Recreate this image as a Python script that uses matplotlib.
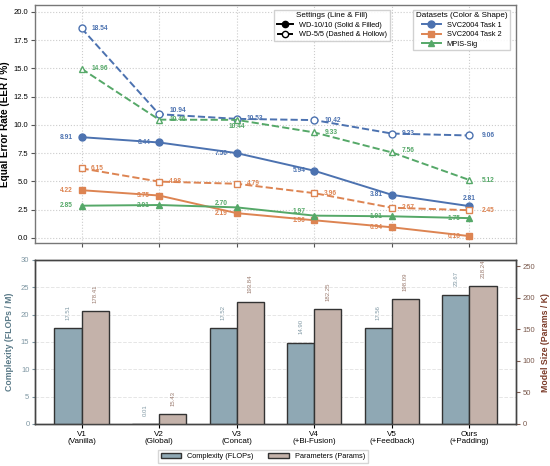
import matplotlib.pyplot as plt
import numpy as np
from matplotlib.lines import Line2D

plt.rcParams['font.family'] = ['Liberation Sans', 'DejaVu Sans']

variants = ['V1\n(Vanilla)', 'V2\n(Global)', 'V3\n(Concat)', 'V4\n(+Bi-Fusion)', 'V5\n(+Feedback)', 'Ours\n(+Padding)']

# EER values (%)
task1_wd10 = [8.91, 8.44, 7.50, 5.94, 3.81, 2.81]
task1_wd5 = [18.54, 10.94, 10.53, 10.42, 9.23, 9.06]
task2_wd10 = [4.22, 3.75, 2.19, 1.56, 0.94, 0.16]
task2_wd5 = [6.15, 4.98, 4.79, 3.96, 2.67, 2.45]
mpis_wd10 = [2.85, 2.91, 2.70, 1.97, 1.91, 1.75]
mpis_wd5 = [14.96, 10.46, 10.44, 9.33, 7.56, 5.12]

# complexity
flops = [17.51, 0.01, 17.52, 14.90, 17.56, 23.67]
params = [178.41, 15.43, 193.84, 182.25, 198.09, 218.24]

c_blue = '#4C72B0'
c_orange = '#DD8452'
c_green = '#55A868'
c_flops = '#8FA8B4'
c_params = '#C4B2AA'

x = np.arange(len(variants))

fig = plt.figure(figsize=(5.5, 4.66), dpi=100)
ax1 = fig.add_axes([35/550, 223/466, 481/550, 238/466])
ax2 = fig.add_axes([35/550, 42/466, 481/550, 164/466])

series = [
    (task1_wd10, c_blue, 'o', '-', True),
    (task2_wd10, c_orange, 's', '-', True),
    (mpis_wd10, c_green, '^', '-', True),
    (task1_wd5, c_blue, 'o', '--', False),
    (task2_wd5, c_orange, 's', '--', False),
    (mpis_wd5, c_green, '^', '--', False),
]
for vals, col, mk, ls, filled in series:
    ax1.plot(x, vals, color=col, marker=mk, linestyle=ls, lw=1.4, ms=5,
             markerfacecolor=col if filled else 'white', markeredgecolor=col,
             markeredgewidth=1.0, zorder=3)

# label offsets (pixels)
solid_off = {
    'task1': [(-9, 0)] * 5 + [(0, 8)],
    'task2': [(-9, 0)] * 6,
    'mpis': [(-9, 0), (-9, 0), (-9, 4), (-9, 4), (-9, 0), (-9, 0)],
}
for key, vals, col in [('task1', task1_wd10, c_blue), ('task2', task2_wd10, c_orange), ('mpis', mpis_wd10, c_green)]:
    for i, v in enumerate(vals):
        dx, dy = solid_off[key][i]
        ha = 'center' if dx == 0 else 'right'
        ax1.annotate(f'{v:.2f}', (x[i], v), xytext=(dx, dy), textcoords='offset pixels',
                     ha=ha, va='center', fontsize=4.8, fontweight='bold', color=col, zorder=4)

dash_off = {
    'task1': [(10, 0), (10, 4), (10, 0), (10, 0), (10, 0), (12, 0)],
    'task2': [(9, 0), (10, 0), (10, 0), (10, 0), (10, 0), (12, 0)],
    'mpis': [(10, 0), (10, 0), (0, -7), (10, 0), (10, 2), (12, 0)],
}
for key, vals, col in [('task1', task1_wd5, c_blue), ('task2', task2_wd5, c_orange), ('mpis', mpis_wd5, c_green)]:
    for i, v in enumerate(vals):
        dx, dy = dash_off[key][i]
        ha = 'center' if dx == 0 else 'left'
        ax1.annotate(f'{v:.2f}', (x[i], v), xytext=(dx, dy), textcoords='offset pixels',
                     ha=ha, va='center', fontsize=4.8, fontweight='bold', color=col, zorder=4)

ax1.set_xlim(-0.6, 5.6)
ax1.set_ylim(-0.45, 20.6)
ax1.set_yticks(np.arange(0, 20.1, 2.5))
ax1.set_xticks(x)
ax1.set_xticklabels([])
ax1.tick_params(labelsize=5.5, length=3, color='#555555', pad=2)
ax1.grid(True, linestyle=':', color='#cccccc', lw=0.8)
ax1.set_axisbelow(True)
for s in ax1.spines.values():
    s.set_color('#777777')
    s.set_linewidth(1.0)
ax1.set_ylabel('Equal Error Rate (EER / %)', fontsize=7.2, fontweight='bold', labelpad=2)

set_handles = [
    Line2D([0], [0], color='black', ls='-', marker='o', ms=4.5, lw=1.4),
    Line2D([0], [0], color='black', ls='--', marker='o', ms=4.5, lw=1.4, markerfacecolor='white'),
]
leg1 = ax1.legend(set_handles, ['WD-10/10 (Solid & Filled)', 'WD-5/5 (Dashed & Hollow)'],
                  title='Settings (Line & Fill)', loc='upper right', bbox_to_anchor=(0.745, 0.995),
                  fontsize=5.3, title_fontsize=5.8, handlelength=2.2, borderpad=0.35,
                  labelspacing=0.3, framealpha=0.9, edgecolor='#cccccc', fancybox=False)
ax1.add_artist(leg1)
data_handles = [
    Line2D([0], [0], color=c_blue, marker='o', ms=5, lw=1.4),
    Line2D([0], [0], color=c_orange, marker='s', ms=5, lw=1.4),
    Line2D([0], [0], color=c_green, marker='^', ms=5, lw=1.4),
]
ax1.legend(data_handles, ['SVC2004 Task 1', 'SVC2004 Task 2', 'MPIS-Sig'],
           title='Datasets (Color & Shape)', loc='upper right', bbox_to_anchor=(0.995, 0.995),
           fontsize=5.3, title_fontsize=5.8, handlelength=2.6, borderpad=0.35,
           labelspacing=0.3, framealpha=0.9, edgecolor='#cccccc', fancybox=False)

# bottom: complexity
w = 0.35
ax3 = ax2.twinx()
b1 = ax2.bar(x - w/2, flops, w, color=c_flops, edgecolor='#333333', lw=1.0, label='Complexity (FLOPs)', zorder=3)
b2 = ax3.bar(x + w/2, params, w, color=c_params, edgecolor='#333333', lw=1.0, label='Parameters (Params)', zorder=3)
ax2.set_ylim(0, 30)
ax3.set_ylim(0, 260)
ax2.set_xlim(-0.6, 5.6)
ax2.set_xticks(x)
ax2.set_xticklabels(variants, fontsize=5.8, linespacing=1.05)
ax2.set_yticks(np.arange(0, 31, 5))
ax3.set_yticks(np.arange(0, 251, 50))
ax2.tick_params(axis='y', labelsize=5.5, colors='#7f97a3', length=2, pad=2)
ax2.tick_params(axis='x', length=3, pad=2)
ax3.tick_params(axis='y', labelsize=5.5, colors='#7b5a4e', length=3, pad=2)
ax2.grid(axis='y', linestyle='--', color='#e6e6e6', lw=0.7)
ax2.set_axisbelow(True)
for a in (ax2, ax3):
    for s in a.spines.values():
        s.set_color('#444444')
        s.set_linewidth(1.0)
ax2.set_ylabel('Complexity (FLOPs / M)', fontsize=6.3, fontweight='bold', color='#5a7a88', labelpad=5)
ax3.set_ylabel('Model Size (Params / K)', fontsize=6.3, fontweight='bold', color='#7a3a28', labelpad=4)

ax2.bar_label(b1, labels=[f'{v:.2f}' for v in flops], rotation=90, padding=6, fontsize=4.3, color='#7f97a3')
ax3.bar_label(b2, labels=[f'{v:.2f}' for v in params], rotation=90, padding=6, fontsize=4.3, color='#9a7a6e')

fig.legend([b1, b2], ['Complexity (FLOPs)', 'Parameters (Params)'], loc='upper center',
           bbox_to_anchor=(0.478, 0.043), ncol=2, fontsize=5.3, frameon=True,
           edgecolor='#cccccc', fancybox=False, handlelength=2.8, columnspacing=2.0, borderpad=0.4)

fig.savefig('out.png', dpi=100)
